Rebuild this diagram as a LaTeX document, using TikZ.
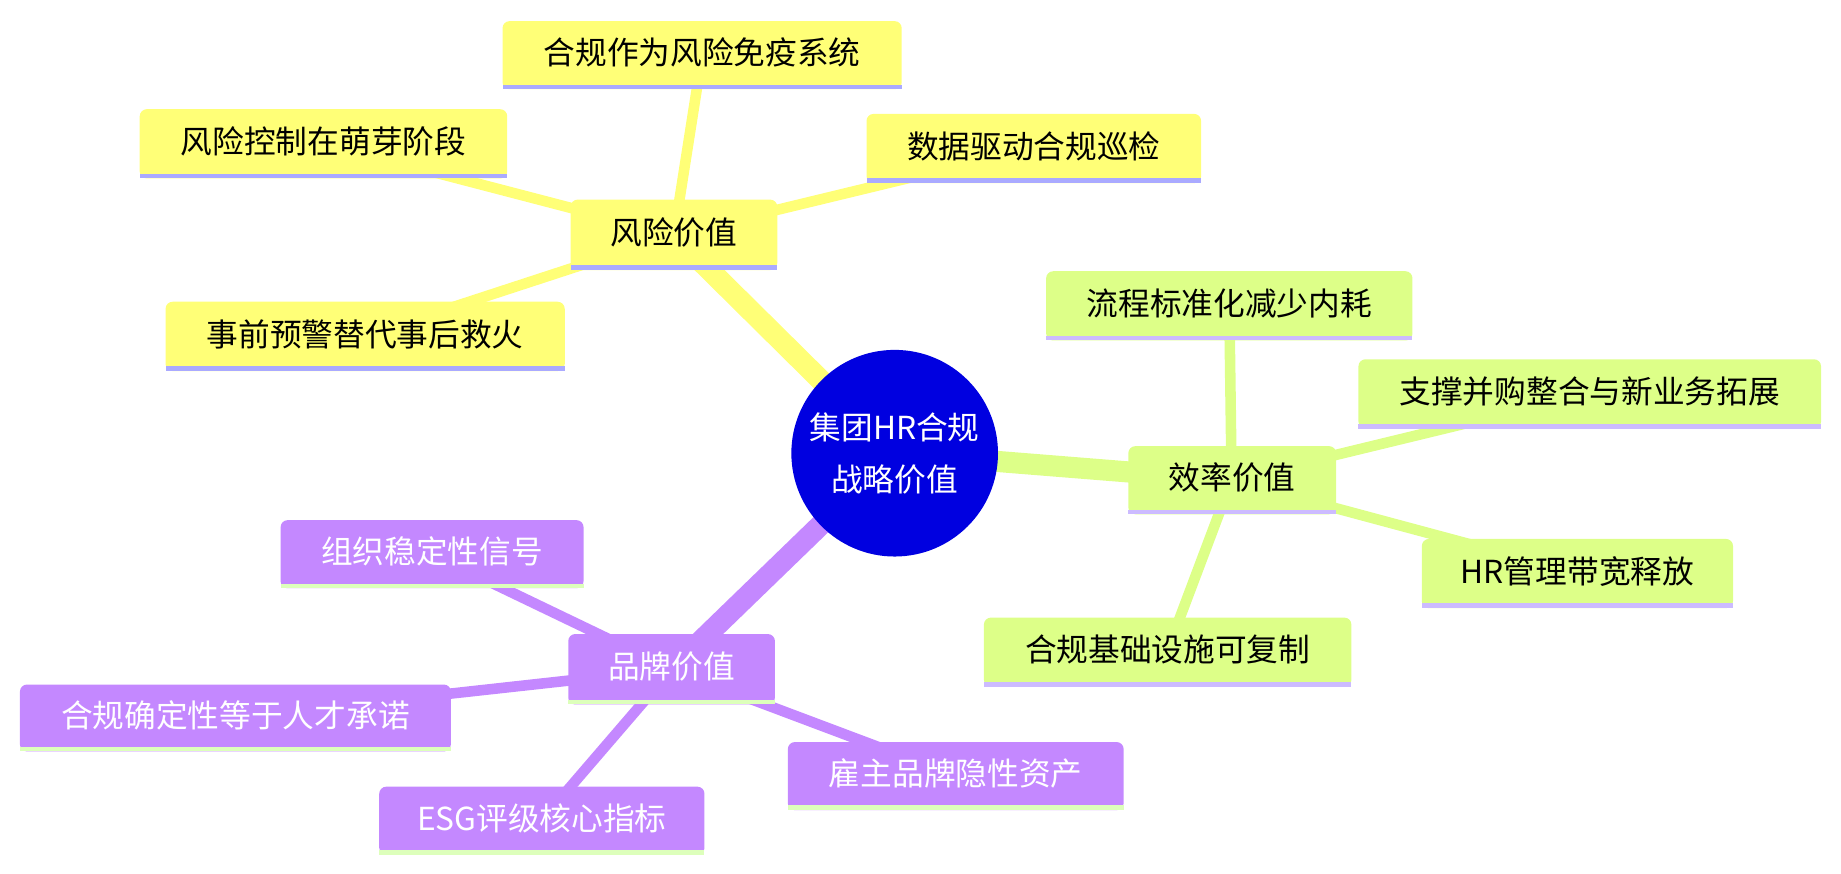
\documentclass[tikz,border=0pt]{standalone}
\usepackage{fontspec}
\setmainfont{Noto Sans CJK SC}
\begin{document}
\begin{tikzpicture}[x=0.5pt,y=-0.5pt,font=\fontsize{13.5}{17}\selectfont]
\definecolor{ylw}{HTML}{FFFF77}\definecolor{ylws}{HTML}{AAAAFF}
\definecolor{grn}{HTML}{DDFF88}\definecolor{grns}{HTML}{CCBBFF}
\definecolor{prp}{HTML}{C488FF}\definecolor{prps}{HTML}{DDFFBB}
\definecolor{ctr}{HTML}{0000E0}
\useasboundingbox (0,0) rectangle (1568,744);
\tikzset{
 bx/.style n args={4}{},
}
% coordinates for nodes
\coordinate (c) at (762,386);
\coordinate (r) at (574,200); \coordinate (e) at (1049,409); \coordinate (b) at (572,570);
\coordinate (r1) at (598,47); \coordinate (r2) at (275,122); \coordinate (r3) at (880,126); \coordinate (r4) at (311,286);
\coordinate (e1) at (1047,260); \coordinate (e2) at (1354,335); \coordinate (e3) at (1343,488); \coordinate (e4) at (994,555);
\coordinate (b1) at (368,472); \coordinate (b2) at (200,611); \coordinate (b3) at (814,661); \coordinate (b4) at (461,699);
% edges
\draw[ylw,line width=9pt] (c) -- (r);
\draw[grn,line width=9pt] (c) -- (e);
\draw[prp,line width=9pt] (c) -- (b);
\foreach \t in {r1,r2,r3,r4} \draw[ylw,line width=4.5pt] (r) -- (\t);
\foreach \t in {e1,e2,e3,e4} \draw[grn,line width=4.5pt] (e) -- (\t);
\foreach \t in {b1,b2,b3,b4} \draw[prp,line width=4.5pt] (b) -- (\t);
% boxes: fill, stripe, text
\newcommand{\mybox}[8]{%
 \fill[#5,rounded corners=3pt] (#1,#2) rectangle (#3,#4);
 \fill[#6] (#1,#4-4) rectangle (#3,#4);
 \node[text=#7] (#8) at ({(#1+#3)/2},{(#2+#4)/2-2}) {};}
\newcommand{\bt}[5]{\node[text=#4] (#5) at ({(#1+#2)/2},{#3}) {};}
\foreach \xa/\ya/\xb/\yb/\fc/\sc/\tc/\tx in {
 486/170/662/230/ylw/ylws/black/风险价值,
 428/18/768/76/ylw/ylws/black/合规作为风险免疫系统,
 119/93/432/152/ylw/ylws/black/风险控制在萌芽阶段,
 738/97/1023/156/ylw/ylws/black/数据驱动合规巡检,
 141/257/481/316/ylw/ylws/black/事前预警替代事后救火,
 961/380/1138/438/grn/grns/black/效率价值,
 891/231/1203/290/grn/grns/black/流程标准化减少内耗,
 1157/306/1551/365/grn/grns/black/支撑并购整合与新业务拓展,
 1211/459/1476/518/grn/grns/black/HR管理带宽释放,
 838/526/1151/585/grn/grns/black/合规基础设施可复制,
 484/540/660/600/prp/prps/white/品牌价值,
 239/443/497/501/prp/prps/white/组织稳定性信号,
 17/583/384/640/prp/prps/white/合规确定性等于人才承诺,
 671/632/957/690/prp/prps/white/雇主品牌隐性资产,
 323/670/600/728/prp/prps/white/ESG评级核心指标}
{
 \fill[\fc,rounded corners=3pt] (\xa,\ya) rectangle (\xb,\yb);
 \fill[\sc] (\xa,\yb-4) rectangle (\xb,\yb);
 \node[text=\tc] at ({(\xa+\xb)/2},{(\ya+\yb)/2-2}) {\tx};
}
\node[circle,fill=ctr,minimum size=88pt,inner sep=0pt,text=white,align=center,font=\fontsize{13.5}{22}\selectfont] (center) at (c) {集团HR合规\\战略价值};
\end{tikzpicture}
\end{document}
